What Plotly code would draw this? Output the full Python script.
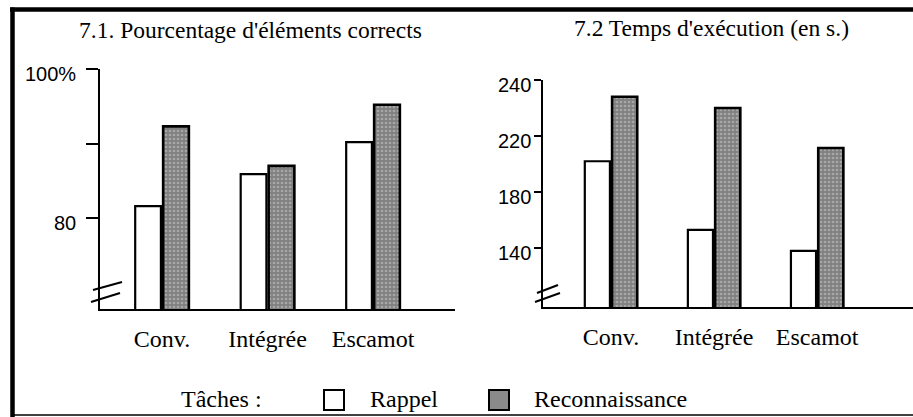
import plotly.graph_objects as go

# ---------------- data ----------------
CATEGORIES = ["Conv.", "Intégrée", "Escamot"]
SERIES_NAMES = ["Rappel", "Reconnaissance"]

# 7.1 Pourcentage d'éléments corrects (%)
PCT_RAPPEL = [81.6, 85.9, 90.2]
PCT_RECO = [92.3, 87.0, 95.2]
PCT_TICK_VALS = [80, 90, 100]
PCT_TICK_TEXT = ["80", "", "100%"]

# 7.2 Temps d'exécution (s) — top tick of the original is labelled "240"
TIME_RAPPEL = [202, 153, 138]
TIME_RECO = [248, 240, 211.5]
TIME_TICK_VALS = [140, 180, 220, 260]
TIME_TICK_TEXT = ["140", "180", "220", "240"]

TITLE_LEFT = "7.1. Pourcentage d'éléments corrects"
TITLE_RIGHT = "7.2 Temps d'exécution (en s.)"
LEGEND_TITLE = "Tâches :"

# ---------------- layout helpers ----------------
W, H = 913, 417
def px(x):
    return x / W
def py(y):
    return 1 - y / H

SERIF = "Liberation Serif, Times New Roman, serif"
SANS = "Liberation Sans, Arial, sans-serif"
RECO_BG = "#808080"
RECO_FG = "#cdcdcd"

fig = go.Figure()

def add_pair(rappel, reco, xa, ya):
    fig.add_trace(go.Bar(
        x=CATEGORIES, y=rappel, name=SERIES_NAMES[0], xaxis=xa, yaxis=ya,
        marker=dict(color="white", line=dict(color="black", width=2.2)),
        showlegend=False, hoverinfo="x+y"))
    fig.add_trace(go.Bar(
        x=CATEGORIES, y=reco, name=SERIES_NAMES[1], xaxis=xa, yaxis=ya,
        marker=dict(color=RECO_BG, line=dict(color="black", width=2.6),
                    pattern=dict(shape=".", bgcolor=RECO_BG, fgcolor=RECO_FG,
                                 size=4, solidity=0.35)),
        showlegend=False, hoverinfo="x+y"))

add_pair(PCT_RAPPEL, PCT_RECO, "x", "y")
add_pair(TIME_RAPPEL, TIME_RECO, "x2", "y2")

xcommon = dict(showline=True, linecolor="black", linewidth=2, ticks="",
               showgrid=False, zeroline=False, automargin=False,
               tickfont=dict(family=SERIF, size=24, color="black"),
               ticklabelstandoff=7, fixedrange=True)
ycommon = dict(showline=True, linecolor="black", linewidth=2, ticks="outside",
               tickwidth=2, tickcolor="black", showgrid=False, zeroline=False,
               automargin=False, showticklabels=False, fixedrange=True)

shapes = []
def seg(x0, y0, x1, y1, w=2):
    shapes.append(dict(type="line", xref="paper", yref="paper",
                       x0=px(x0), y0=py(y0), x1=px(x1), y1=py(y1),
                       line=dict(color="black", width=w)))

# frame
seg(12.5, 7.5, 12.5, 417, 4.5)
seg(10, 9.5, 913, 9.5, 4.5)
seg(12, 415, 913, 415, 1.5)
# axis breaks
seg(91, 302, 120, 293)
seg(93, 290, 122, 282)
seg(535, 302, 560, 293)
seg(537, 293, 558, 285)
# legend boxes
shapes.append(dict(type="rect", xref="paper", yref="paper",
                   x0=px(324), x1=px(344), y0=py(410), y1=py(390),
                   fillcolor="white", line=dict(color="black", width=2)))
shapes.append(dict(type="rect", xref="paper", yref="paper",
                   x0=px(489), x1=px(509), y0=py(410), y1=py(390),
                   fillcolor="#8a8a8a", line=dict(color="black", width=2)))

def label(text, x, y, anchor="center", size=24):
    return dict(text=text, xref="paper", yref="paper", x=px(x), y=py(y),
                xanchor=anchor, yanchor="middle", showarrow=False,
                font=dict(family=SERIF, size=size, color="black"))

annotations = [
    label(TITLE_LEFT, 250, 30, size=23.5),
    label(TITLE_RIGHT, 711, 28, size=23.5),
    label(LEGEND_TITLE, 264, 399, "right"),
    label(SERIES_NAMES[0], 368, 399, "left"),
    label(SERIES_NAMES[1], 532, 399, "left"),
]

# y tick labels (sit slightly below their ticks, as in the original)
def ytick_labels(vals, texts, yref, right_px):
    for v, t in zip(vals, texts):
        if not t:
            continue
        annotations.append(dict(text=t, xref="paper", yref=yref, x=px(right_px), y=v,
                                xanchor="right", yanchor="middle", yshift=-5,
                                showarrow=False,
                                font=dict(family=SANS, size=20, color="black")))

ytick_labels(PCT_TICK_VALS, PCT_TICK_TEXT, "y", 78)
ytick_labels(TIME_TICK_VALS, TIME_TICK_TEXT, "y2", 533)

fig.update_layout(
    width=W, height=H, autosize=False,
    margin=dict(l=0, r=0, t=0, b=0, pad=0),
    paper_bgcolor="white", plot_bgcolor="white",
    barmode="group", bargap=0.47, bargroupgap=0.08,
    showlegend=False,
    xaxis=dict(xcommon, domain=[px(100), px(455)], range=[-0.588, 2.777], anchor="y"),
    yaxis=dict(ycommon, domain=[py(309), py(69)], range=[67.8, 100], anchor="x",
               tickvals=PCT_TICK_VALS, ticklen=12),
    xaxis2=dict(xcommon, domain=[px(543), 1], range=[-0.66, 2.93], anchor="y2"),
    yaxis2=dict(ycommon, domain=[py(307), py(80)], range=[98, 260], anchor="x2",
                tickvals=TIME_TICK_VALS, ticklen=7),
    shapes=shapes,
    annotations=annotations,
)

fig.write_html(
    "out.html",
    config={"displayModeBar": False, "responsive": False},
    post_script="document.body.style.margin='0';document.body.style.padding='0';"
                "document.body.style.overflow='hidden';"
                "document.documentElement.style.overflow='hidden';",
)
